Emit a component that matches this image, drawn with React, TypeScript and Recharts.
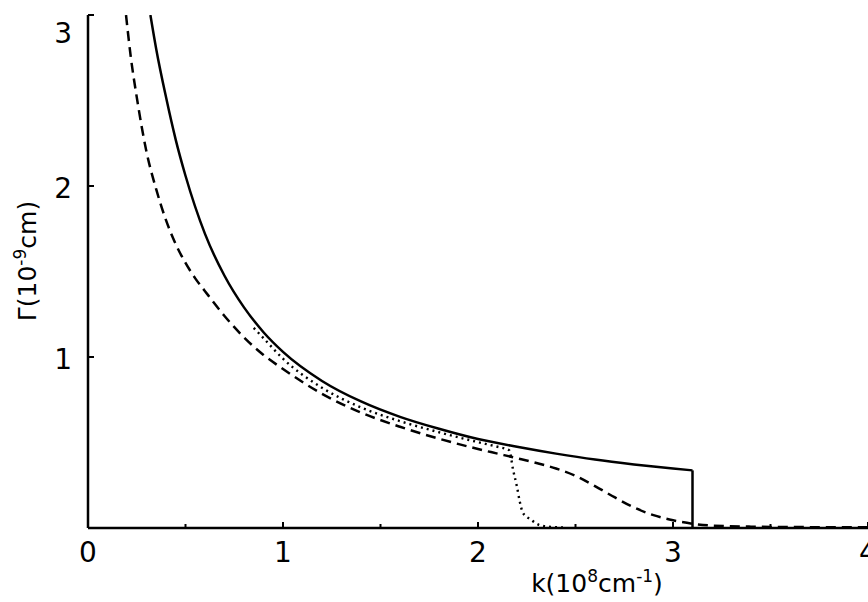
import React from "react";
import { LineChart, Line, XAxis, YAxis } from "recharts";

// solid curve
const solidK = [0.32, 0.35, 0.4, 0.45, 0.5, 0.6, 0.7, 0.8, 0.9, 1.0, 1.2, 1.4, 1.6, 1.8, 2.0, 2.2, 2.4, 2.6, 2.8, 3.0, 3.1];
const solidG = [3.0, 2.8, 2.52, 2.27, 2.06, 1.72, 1.475, 1.29, 1.145, 1.03, 0.86, 0.74, 0.65, 0.58, 0.52, 0.475, 0.435, 0.4, 0.372, 0.348, 0.337];

// vertical cut-off of the solid curve
const dropK = [3.1, 3.1];
const dropG = [0.337, 0];

// dashed curve
const dashK = [0.195, 0.22, 0.25, 0.3, 0.35, 0.4, 0.45, 0.5, 0.55, 0.6, 0.7, 0.8, 0.9, 1.0, 1.2, 1.4, 1.6, 1.8, 2.0, 2.1, 2.2, 2.3, 2.4, 2.5, 2.6, 2.7, 2.8, 2.9, 3.0, 3.1, 3.2, 3.4, 3.7, 4.0];
const dashG = [3.0, 2.75, 2.52, 2.2, 1.98, 1.8, 1.66, 1.55, 1.46, 1.385, 1.24, 1.115, 1.012, 0.93, 0.785, 0.675, 0.592, 0.522, 0.462, 0.435, 0.408, 0.38, 0.348, 0.305, 0.245, 0.18, 0.12, 0.075, 0.045, 0.025, 0.014, 0.008, 0.005, 0.004];

// dotted curve
const dotK = [0.85, 0.9, 1.0, 1.2, 1.4, 1.6, 1.8, 2.0, 2.1, 2.16, 2.18, 2.2, 2.215, 2.23, 2.27, 2.31, 2.36, 2.45];
const dotG = [1.17, 1.11, 0.99, 0.82, 0.705, 0.625, 0.56, 0.502, 0.475, 0.455, 0.34, 0.24, 0.15, 0.09, 0.05, 0.02, 0.008, 0.003];

const xTicks = [0, 0.5, 1, 1.5, 2, 2.5, 3, 3.5, 4];
const yTicks = [1, 2, 3];

const toRows = (ks: number[], gs: number[]) => ks.map((k, i) => ({ k, g: gs[i] }));

const solidData = toRows(solidK, solidG);
const dropData = toRows(dropK, dropG);
const dashData = toRows(dashK, dashG);
const dotData = toRows(dotK, dotG);

const FONT = "'DejaVu Sans', sans-serif";

const XTick = (props: any) => {
  const { x, y, payload } = props;
  const v = payload.value;
  const major = Number.isInteger(v);
  return (
    <g>
      <line x1={x} y1={y} x2={x} y2={y - (major ? 6 : 4)} stroke="#000" strokeWidth={2} />
      {major && (
        <text x={x} y={y + 34} textAnchor="middle" fontSize={28} fontFamily={FONT} fill="#000">
          {v}
        </text>
      )}
    </g>
  );
};

const YTick = (props: any) => {
  const { x, y, payload } = props;
  const v = payload.value;
  return (
    <g>
      <line x1={x} y1={y} x2={x + 6} y2={y} stroke="#000" strokeWidth={2} />
      <text x={x - 16} y={y + (v === 3 ? 28 : 12)} textAnchor="end" fontSize={28} fontFamily={FONT} fill="#000">
        {v}
      </text>
    </g>
  );
};

const XLabel = () => (
  <text x={597} y={592} textAnchor="middle" fontSize={25} fontFamily={FONT} fill="#000">
    k(10
    <tspan dy={-10} fontSize={17}>8</tspan>
    <tspan dy={10}>cm</tspan>
    <tspan dy={-10} fontSize={17}>-1</tspan>
    <tspan dy={10}>)</tspan>
  </text>
);

const YLabel = () => (
  <text
    x={36}
    y={261}
    transform="rotate(-90, 36, 261)"
    textAnchor="middle"
    fontSize={25}
    fontFamily={FONT}
    fill="#000"
  >
    Γ(10
    <tspan dy={-10} fontSize={17}>-9</tspan>
    <tspan dy={10}>cm)</tspan>
  </text>
);

export default function App() {
  return (
    <div style={{ position: "absolute", left: 0, top: 0, background: "#fff" }}>
      <LineChart width={868} height={602} margin={{ top: 15, right: 0, bottom: 0, left: 0 }}>
        <XAxis
          type="number"
          dataKey="k"
          domain={[0, 4]}
          ticks={xTicks}
          allowDataOverflow
          height={74}
          tickSize={0}
          tickMargin={0}
          tickLine={false}
          tick={<XTick />}
          interval={0}
          axisLine={{ stroke: "#000", strokeWidth: 2.5 }}
          label={{ content: XLabel }}
        />
        <YAxis
          type="number"
          domain={[0, 3]}
          ticks={yTicks}
          allowDataOverflow
          width={88}
          tickSize={0}
          tickMargin={0}
          tickLine={false}
          tick={<YTick />}
          interval={0}
          axisLine={{ stroke: "#000", strokeWidth: 2.5 }}
          label={{ content: YLabel }}
        />
        <Line data={solidData} dataKey="g" type="monotone" stroke="#000" strokeWidth={2.5} dot={false} isAnimationActive={false} />
        <Line data={dropData} dataKey="g" type="linear" stroke="#000" strokeWidth={2.5} dot={false} isAnimationActive={false} />
        <Line
          data={dashData}
          dataKey="g"
          type="monotone"
          stroke="#000"
          strokeWidth={2.5}
          strokeDasharray="10 6"
          dot={false}
          isAnimationActive={false}
        />
        <Line
          data={dotData}
          dataKey="g"
          type="monotone"
          stroke="#000"
          strokeWidth={2.4}
          strokeDasharray="2 4"
          dot={false}
          isAnimationActive={false}
        />
      </LineChart>
    </div>
  );
}
